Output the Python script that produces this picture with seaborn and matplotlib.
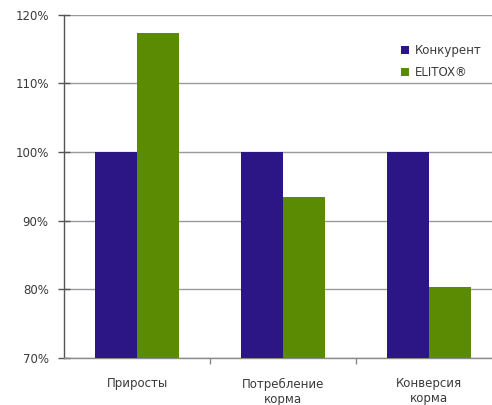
import matplotlib
matplotlib.use("Agg")
import matplotlib.pyplot as plt
import seaborn as sns
import pandas as pd
from matplotlib.ticker import FixedLocator, FuncFormatter
from matplotlib.patches import Patch

# Data
categories = ["Приросты", "Потребление\nкорма", "Конверсия\nкорма"]
series_names = ["Конкурент", "ELITOX®"]
competitor = [100.0, 100.0, 100.0]
elitox = [117.3, 93.5, 80.3]
y_ticks = [70, 80, 90, 100, 110, 120]

colors = ["#2C1686", "#5B8B02"]

df = pd.DataFrame({
    "cat": categories * 2,
    "series": [series_names[0]] * 3 + [series_names[1]] * 3,
    "value": competitor + elitox,
})

sns.set_style("white")
plt.rcParams["font.family"] = ["DejaVu Sans"]

fig = plt.figure(figsize=(4.92, 4.05), dpi=100)
ax = fig.add_axes([64 / 492, 47 / 405, 438 / 492, 343.5 / 405])

sns.barplot(data=df, x="cat", y="value", hue="series", order=categories,
            hue_order=series_names, palette=colors, width=0.575, gap=0,
            saturation=1, linewidth=0, ax=ax, legend=False, zorder=3)

ax.set_ylim(70, 120)
ax.set_xlim(-0.5, 2.5)
ax.yaxis.set_major_locator(FixedLocator(y_ticks))
ax.yaxis.set_major_formatter(FuncFormatter(lambda v, p: f"{v:.0f}%"))
ax.grid(axis="y", color="#9a9a9a", linewidth=1.0, zorder=0)
ax.set_axisbelow(True)

for s in ["top", "right"]:
    ax.spines[s].set_visible(False)
ax.spines["left"].set_color("#555555")
ax.spines["left"].set_linewidth(1.0)
ax.spines["bottom"].set_color("#8a8a8a")
ax.spines["bottom"].set_linewidth(1.0)

ax.tick_params(axis="y", direction="inout", length=8, width=1, color="#555555",
               labelsize=8.5, labelcolor="#3a3a3a", pad=7, left=True)
ax.xaxis.set_minor_locator(FixedLocator([0.5, 1.5]))
ax.tick_params(axis="x", which="major", length=0, pad=14, labelsize=8.5,
               labelcolor="#3a3a3a")
ax.tick_params(axis="x", which="minor", direction="out", length=4, width=1,
               color="#8a8a8a", bottom=True)
ax.set_xlabel("")
ax.set_ylabel("")

handles = [Patch(facecolor=c, edgecolor="none", label=n)
           for c, n in zip(colors, series_names)]
ax.legend(handles=handles, loc="upper left", bbox_to_anchor=(0.745, 0.945),
          frameon=False, fontsize=8.5, handlelength=0.7, handleheight=0.7,
          handletextpad=0.5, labelspacing=0.75, labelcolor="#3a3a3a")

fig.savefig("out.png", dpi=100)
